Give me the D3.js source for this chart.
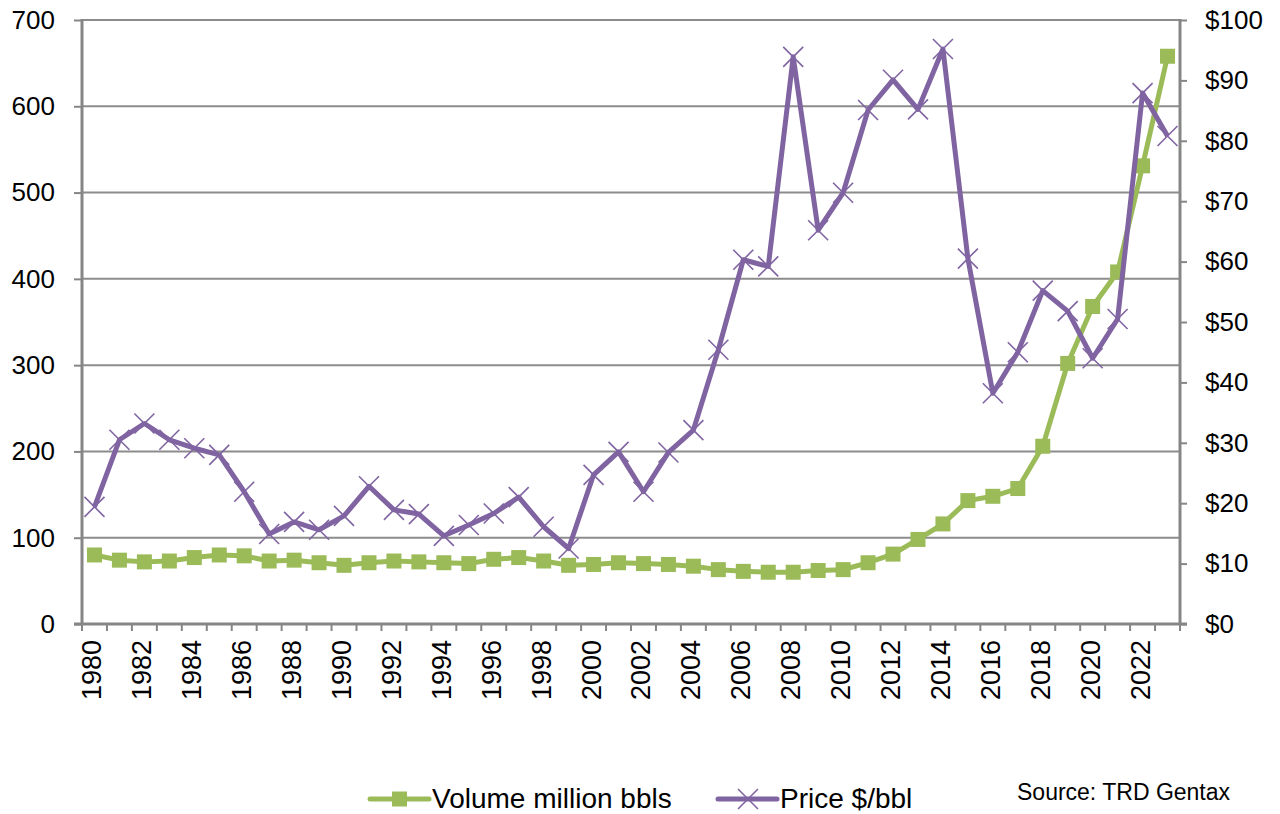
<!DOCTYPE html>
<html><head><meta charset="utf-8">
<script src="https://cdn.jsdelivr.net/npm/d3@7"></script>
<style>body{margin:0;background:#fff;} text{font-family:"Liberation Sans",Arial,sans-serif;}</style>
</head><body><svg id="c" width="1280" height="814"></svg>
<script>
const years = d3.range(1980, 2024);
const volume = [80,74,72,73,77,80,79,73,74,71,68,71,73,72,71,70,75,77,73,68,69,71,70,69,67,63,61,60,60,62,63,71,81,98,116,143,148,157,206,302,368,408,531,658];
const price = [19.4,30.5,33.2,30.5,29.1,28.0,21.9,14.9,16.9,15.6,17.9,22.8,18.9,18.2,14.6,16.4,18.3,21.0,16.1,12.5,24.7,28.5,21.9,28.4,32.1,45.4,60.3,59.2,93.9,65.2,71.4,85.1,90.1,85.2,95.2,60.5,38.2,45.0,55.2,51.8,44.0,50.5,87.9,80.8];
const leftTicks = [0,100,200,300,400,500,600,700];
const rightTicks = [0,10,20,30,40,50,60,70,80,90,100];
const seriesNames = ["Volume million bbls","Price $/bbl"];
const sourceText = "Source: TRD Gentax";

const green = "#9BBB59", purple = "#8064A2", axisCol = "#868686", gridCol = "#8c8c8c";
const L = 82, R = 1180, T = 20, B = 624;
const svg = d3.select("#c");
const x = d3.scaleBand().domain(years).range([L, R]);
const yL = d3.scaleLinear().domain([0,700]).range([B, T]);
const yR = d3.scaleLinear().domain([0,100]).range([B, T]);
const cx = d => x(d) + x.bandwidth()/2;
const FS = 26;

// grid
svg.append("g").selectAll("line").data(leftTicks.filter(v=>v>0)).join("line")
  .attr("x1", L).attr("x2", R).attr("y1", d=>yL(d)).attr("y2", d=>yL(d))
  .attr("stroke", gridCol).attr("stroke-width", 2);

// left axis
const gl = svg.append("g").attr("transform", `translate(${L},0)`)
  .call(d3.axisLeft(yL).tickValues(leftTicks).tickSize(8).tickPadding(19).tickFormat(d3.format("d")));
gl.select(".domain").attr("stroke", axisCol).attr("stroke-width", 3).attr("d", `M0,${T-1}V${B}`);
gl.selectAll(".tick line").attr("stroke", axisCol).attr("stroke-width", 2);
gl.selectAll(".tick text").attr("font-size", FS).attr("fill", "#000").attr("font-family", "Liberation Sans, Arial");

// right axis
const gr = svg.append("g").attr("transform", `translate(${R},0)`)
  .call(d3.axisRight(yR).tickValues(rightTicks).tickSize(7).tickPadding(18).tickFormat(d => "$" + d));
gr.select(".domain").attr("stroke", axisCol).attr("stroke-width", 3).attr("d", `M0,${T-1}V${B}`);
gr.selectAll(".tick line").attr("stroke", axisCol).attr("stroke-width", 2);
gr.selectAll(".tick text").attr("font-size", FS).attr("fill", "#000").attr("font-family", "Liberation Sans, Arial");

// bottom axis
const gb = svg.append("g").attr("transform", `translate(0,${B})`);
gb.append("line").attr("x1", L-8).attr("x2", R+7).attr("y1", 0).attr("y2", 0).attr("stroke", axisCol).attr("stroke-width", 3);
gb.selectAll("line.t").data(years.concat([2024])).join("line").attr("class","t")
  .attr("x1", d => d===2024 ? R : x(d)).attr("x2", d => d===2024 ? R : x(d))
  .attr("y1", 0).attr("y2", 7).attr("stroke", axisCol).attr("stroke-width", 2);
gb.selectAll("text").data(years.filter(y => (y-1980)%2===0)).join("text")
  .attr("transform", d => `translate(${cx(d)+7},16) rotate(-90)`)
  .attr("text-anchor", "end").attr("font-size", 27).attr("fill", "#000").text(d => d);

// lines
const lineV = d3.line().x((d,i)=>cx(years[i])).y(d=>yL(d));
const lineP = d3.line().x((d,i)=>cx(years[i])).y(d=>yR(d));
svg.append("path").attr("d", lineV(volume)).attr("fill","none").attr("stroke", green).attr("stroke-width", 5).attr("stroke-linejoin","round");
svg.selectAll("rect.m").data(volume).join("rect").attr("class","m")
  .attr("x", (d,i)=>cx(years[i])-7.5).attr("y", d=>yL(d)-7.5).attr("width",15).attr("height",15).attr("fill", green);
svg.append("path").attr("d", lineP(price)).attr("fill","none").attr("stroke", purple).attr("stroke-width", 5).attr("stroke-linejoin","round");
const xm = svg.append("g");
price.forEach((d,i) => {
  const px = cx(years[i]), py = yR(d), s = 10;
  xm.append("path").attr("d", `M${px-s},${py-s}L${px+s},${py+s}M${px-s},${py+s}L${px+s},${py-s}`)
    .attr("stroke", purple).attr("stroke-width", 1.6);
});

// legend
const ly = 799;
const lg = svg.append("g");
lg.append("line").attr("x1",370).attr("x2",429).attr("y1",ly).attr("y2",ly).attr("stroke",green).attr("stroke-width",5).attr("stroke-linecap","round");
lg.append("rect").attr("x",392).attr("y",ly-7.5).attr("width",15).attr("height",15).attr("fill",green);
lg.append("text").attr("x",432).attr("y",ly+9).attr("font-size",28).text(seriesNames[0]);
lg.append("line").attr("x1",718).attr("x2",777).attr("y1",ly).attr("y2",ly).attr("stroke",purple).attr("stroke-width",5).attr("stroke-linecap","round");
lg.append("path").attr("d",`M${748-10},${ly-10}L${748+10},${ly+10}M${748-10},${ly+10}L${748+10},${ly-10}`).attr("stroke",purple).attr("stroke-width",1.6);
lg.append("text").attr("x",780).attr("y",ly+9).attr("font-size",28).text(seriesNames[1]);
svg.append("text").attr("x",1017).attr("y",800).attr("font-size",23).text(sourceText);
</script></body></html>
